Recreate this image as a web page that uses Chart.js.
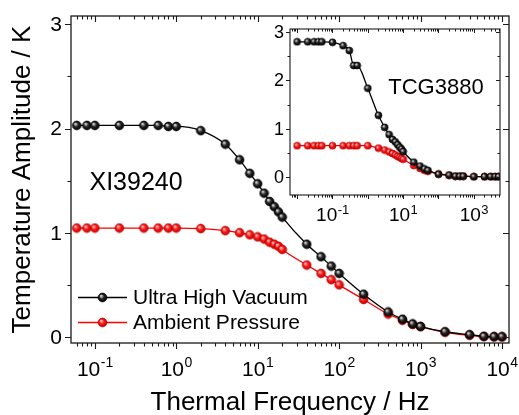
<!DOCTYPE html>
<html>
<head>
<meta charset="utf-8">
<title>Temperature Amplitude</title>
<script src="https://cdn.jsdelivr.net/npm/chart.js@4.4.1/dist/chart.umd.min.js"></script>
<style>
  html, body { margin: 0; padding: 0; background: #fff; }
  #contenedor { position: relative; width: 519px; height: 415px; }
  #principal { position: absolute; left: 0; top: 0; }
  #recuadro { position: absolute; left: 250px; top: 10px; }
</style>
</head>
<body>
<div id="contenedor">
  <canvas id="principal" width="519" height="415"></canvas>
  <canvas id="recuadro" width="265" height="225"></canvas>
</div>
<script>
// Muestra XI39240: frecuencias (Hz) y amplitudes (K)
const frecPrincipal = [0.06, 0.08, 0.1, 0.2, 0.4, 0.6, 0.8, 1, 2, 4, 6, 8, 10, 12, 14, 16, 18, 20,
    40, 60, 80, 100, 200, 400, 600, 800, 1000, 2000, 4000, 6000, 8000, 10000];
const vacioPrincipal = [2.03, 2.03, 2.03, 2.03, 2.03, 2.03, 2.02, 2.02, 1.98, 1.85, 1.70, 1.57, 1.47, 1.38, 1.30, 1.25, 1.20, 1.15,
    0.89, 0.77, 0.68, 0.61, 0.41, 0.24, 0.17, 0.125, 0.10, 0.05, 0.022, 0.006, 0.003, 0.002];
const ambientePrincipal = [1.045, 1.045, 1.045, 1.045, 1.045, 1.045, 1.045, 1.045, 1.04, 1.02, 1.00, 0.98, 0.96, 0.94, 0.91, 0.89, 0.87, 0.84,
    0.69, 0.61, 0.55, 0.50, 0.36, 0.22, 0.16, 0.12, 0.10, 0.045, 0.016, 0.004, 0.001, 0.0];

// Muestra TCG3880 (recuadro)
const frecRecuadro = [0.01, 0.02, 0.03, 0.04, 0.05, 0.1, 0.2, 0.3, 0.4, 0.5, 1, 2, 3, 4, 5, 6, 7, 8, 9, 10,
    20, 30, 40, 50, 100, 200, 300, 400, 500, 1000, 2000, 3000, 4000, 5000];
const vacioRecuadro = [2.80, 2.80, 2.80, 2.80, 2.80, 2.79, 2.72, 2.62, 2.31, 2.31, 1.84, 1.28, 1.03, 0.88, 0.78, 0.73, 0.67, 0.62, 0.58, 0.53,
    0.31, 0.23, 0.17, 0.14, 0.06, 0.04, 0.02, 0.02, 0.02, 0.01, 0.01, 0.01, 0.01, 0.01];
const ambienteRecuadro = [0.65, 0.65, 0.65, 0.65, 0.65, 0.65, 0.65, 0.65, 0.65, 0.65, 0.65, 0.60, 0.56, 0.52, 0.49, 0.46, 0.43, 0.41, 0.39, 0.37,
    0.24, 0.18, 0.14, 0.12, 0.065, 0.04, 0.02, 0.02, 0.02, 0.01, 0.01, 0.01, 0.01, 0.01];

const nombresSeries = ['Ultra High Vacuum', 'Ambient Pressure'];
const nombresMuestras = ['XI39240', 'TCG3880'];

// Etiquetas de los ejes: exponentes de las décadas y valores enteros en y
const decadasPrincipal = [-1, 0, 1, 2, 3, 4];
const decadasRecuadro = [-1, 1, 3];
const marcasY = [0, 1, 2, 3];

const FUENTE = '"Liberation Sans", Arial, Helvetica, sans-serif';

// Bolita con brillo para los puntos
function crearBola(radio, brillo, base, borde) {
    const c = document.createElement('canvas');
    const d = Math.ceil(radio * 2 + 2);
    c.width = d; c.height = d;
    const g = c.getContext('2d');
    const cx = d / 2, cy = d / 2;
    const grad = g.createRadialGradient(cx - radio * 0.35, cy - radio * 0.4, radio * 0.05, cx, cy, radio);
    grad.addColorStop(0, brillo);
    grad.addColorStop(0.5, base);
    grad.addColorStop(1, borde);
    g.beginPath();
    g.arc(cx, cy, radio, 0, Math.PI * 2);
    g.fillStyle = grad;
    g.fill();
    g.lineWidth = 0.7;
    g.strokeStyle = borde;
    g.stroke();
    return c;
}

function puntos(xs, ys) {
    return xs.map((f, i) => ({ x: f, y: ys[i] }));
}

// Marco, marcas y etiquetas de ejes al estilo Origin
const ejesOrigin = {
    id: 'ejesOrigin',
    afterDatasetsDraw(chart, args, o) {
        const ctx = chart.ctx;
        const a = chart.chartArea;
        const sx = chart.scales.x, sy = chart.scales.y;
        ctx.save();
        ctx.strokeStyle = '#1a1a1a';
        ctx.lineWidth = o.grosor;
        ctx.strokeRect(a.left, a.top, a.right - a.left, a.bottom - a.top);

        ctx.beginPath();
        const e0 = Math.floor(Math.log10(sx.min)), e1 = Math.ceil(Math.log10(sx.max));
        for (let e = e0; e <= e1; e++) {
            for (let m = 1; m <= 9; m++) {
                const v = m * Math.pow(10, e);
                if (v < sx.min || v > sx.max) continue;
                const px = Math.round(sx.getPixelForValue(v)) + 0.5;
                const largo = m === 1 ? o.largoMayor : o.largoMenor;
                ctx.moveTo(px, a.bottom); ctx.lineTo(px, a.bottom + largo);   // abajo, hacia fuera
                ctx.moveTo(px, a.top); ctx.lineTo(px, a.top + largo);         // arriba, hacia dentro
            }
        }
        for (let v = Math.ceil(sy.min * 2) / 2; v <= sy.max; v += 0.5) {
            const py = Math.round(sy.getPixelForValue(v)) + 0.5;
            const largo = Number.isInteger(v) ? o.largoMayor : o.largoMenor;
            ctx.moveTo(a.left, py); ctx.lineTo(a.left - largo, py);
            ctx.moveTo(a.right, py); ctx.lineTo(a.right - largo, py);
        }
        ctx.lineWidth = o.grosorMarcas;
        ctx.stroke();

        // décadas del eje x: "10" con exponente elevado
        ctx.fillStyle = '#000';
        ctx.textBaseline = 'alphabetic';
        ctx.textAlign = 'left';
        o.decadas.forEach(d => {
            const px = sx.getPixelForValue(Math.pow(10, d));
            const exp = String(d);
            ctx.font = o.fuenteEje + 'px ' + FUENTE;
            const wb = ctx.measureText('10').width;
            ctx.font = o.fuenteExp + 'px ' + FUENTE;
            const we = ctx.measureText(exp).width;
            const x0 = px - (wb + we) / 2;
            const yb = a.bottom + o.bajadaX;
            ctx.font = o.fuenteEje + 'px ' + FUENTE;
            ctx.fillText('10', x0, yb);
            ctx.font = o.fuenteExp + 'px ' + FUENTE;
            ctx.fillText(exp, x0 + wb + 0.5, yb - o.subidaExp);
        });

        ctx.font = o.fuenteY + 'px ' + FUENTE;
        ctx.textAlign = 'right';
        ctx.textBaseline = 'middle';
        o.marcasY.forEach(v => {
            ctx.fillText(String(v), a.left - o.separacionY, sy.getPixelForValue(v) + 1);
        });

        // títulos de ejes
        if (o.tituloX) {
            ctx.font = o.fuenteTitulo + 'px ' + FUENTE;
            ctx.textAlign = 'center';
            ctx.textBaseline = 'alphabetic';
            ctx.fillText(o.tituloX, (a.left + a.right) / 2, a.bottom + o.bajadaTitulo);
            ctx.save();
            ctx.translate(a.left - o.separacionTituloY, (a.top + a.bottom) / 2);
            ctx.rotate(-Math.PI / 2);
            ctx.fillText(o.tituloY, 0, 0);
            ctx.restore();
        }

        // nombre de la muestra, en coordenadas de datos
        if (o.muestra) {
            ctx.font = o.muestra.tamano + 'px ' + FUENTE;
            ctx.textAlign = 'left';
            ctx.textBaseline = 'alphabetic';
            ctx.fillText(o.muestra.texto, sx.getPixelForValue(o.muestra.x), sy.getPixelForValue(o.muestra.y));
        }
        ctx.restore();
    }
};

// Leyenda con símbolo línea-punto-línea
const leyendaOrigin = {
    id: 'leyendaOrigin',
    afterDraw(chart, args, o) {
        if (!o.mostrar) return;
        const ctx = chart.ctx;
        ctx.save();
        ctx.font = o.tamano + 'px ' + FUENTE;
        ctx.textBaseline = 'middle';
        ctx.textAlign = 'left';
        chart.data.datasets.forEach((ds, i) => {
            const y = o.y + i * o.paso;
            ctx.strokeStyle = ds.borderColor;
            ctx.lineWidth = ds.borderWidth;
            ctx.beginPath();
            ctx.moveTo(o.x, y + 0.5);
            ctx.lineTo(o.x + o.ancho, y + 0.5);
            ctx.stroke();
            const img = ds.pointStyle;
            ctx.drawImage(img, o.x + o.ancho / 2 - img.width / 2, y + 0.5 - img.height / 2);
            ctx.fillStyle = '#000';
            ctx.fillText(ds.label, o.x + o.ancho + o.separacion, y + 1);
        });
        ctx.restore();
    }
};

function crearGrafico(id, series, escalas, padding, opcionesEjes, leyenda, radio) {
    const bolaNegra = crearBola(radio, '#f0f0f0', '#262626', '#000000');
    const bolaRoja = crearBola(radio, '#ffd8d8', '#ff1a1a', '#c00000');
    return new Chart(document.getElementById(id), {
        type: 'line',
        data: {
            datasets: [
                {
                    label: nombresSeries[0],
                    data: series[0],
                    borderColor: '#000000',
                    borderWidth: 1.3,
                    pointStyle: bolaNegra,
                    pointRadius: radio,
                    cubicInterpolationMode: 'monotone',
                    fill: false
                },
                {
                    label: nombresSeries[1],
                    data: series[1],
                    borderColor: '#ff0000',
                    borderWidth: 1.3,
                    pointStyle: bolaRoja,
                    pointRadius: radio,
                    cubicInterpolationMode: 'monotone',
                    fill: false
                }
            ]
        },
        options: {
            responsive: false,
            animation: false,
            layout: { padding: padding },
            scales: {
                x: { type: 'logarithmic', min: escalas.xMin, max: escalas.xMax, display: false },
                y: { type: 'linear', min: escalas.yMin, max: escalas.yMax, display: false }
            },
            plugins: {
                legend: { display: false },
                tooltip: { enabled: false },
                ejesOrigin: opcionesEjes,
                leyendaOrigin: leyenda
            }
        },
        plugins: [ejesOrigin, leyendaOrigin]
    });
}

// Gráfico principal
crearGrafico('principal',
    [puntos(frecPrincipal, vacioPrincipal), puntos(frecPrincipal, ambientePrincipal)],
    { xMin: 0.051, xMax: 12200, yMin: -0.058, yMax: 3.08 },
    { left: 71, top: 16, right: 10, bottom: 72 },
    {
        grosor: 1.3, grosorMarcas: 1.1, largoMayor: 6, largoMenor: 3.5,
        decadas: decadasPrincipal, marcasY: marcasY,
        fuenteEje: 21, fuenteExp: 14, bajadaX: 33, subidaExp: 9,
        fuenteY: 21, separacionY: 9,
        tituloX: 'Thermal Frequency / Hz', tituloY: 'Temperature Amplitude / K',
        fuenteTitulo: 26, bajadaTitulo: 67, separacionTituloY: 41,
        muestra: { texto: nombresMuestras[0], x: 0.086, y: 1.41, tamano: 25 }
    },
    { mostrar: true, x: 78, y: 297, paso: 25, ancho: 49, separacion: 6, tamano: 21 },
    4.4);

// Recuadro
crearGrafico('recuadro',
    [puntos(frecRecuadro, vacioRecuadro), puntos(frecRecuadro, ambienteRecuadro)],
    { xMin: 0.0063, xMax: 5500, yMin: -0.37, yMax: 3.065 },
    { left: 40, top: 19, right: 15, bottom: 40 },
    {
        grosor: 1.1, grosorMarcas: 1, largoMayor: 4, largoMenor: 2.5,
        decadas: decadasRecuadro, marcasY: marcasY,
        fuenteEje: 19, fuenteExp: 13, bajadaX: 26, subidaExp: 7,
        fuenteY: 18, separacionY: 6,
        muestra: { texto: nombresMuestras[1], x: 3.8, y: 1.72, tamano: 22 }
    },
    { mostrar: false },
    3.5);
</script>
</body>
</html>
